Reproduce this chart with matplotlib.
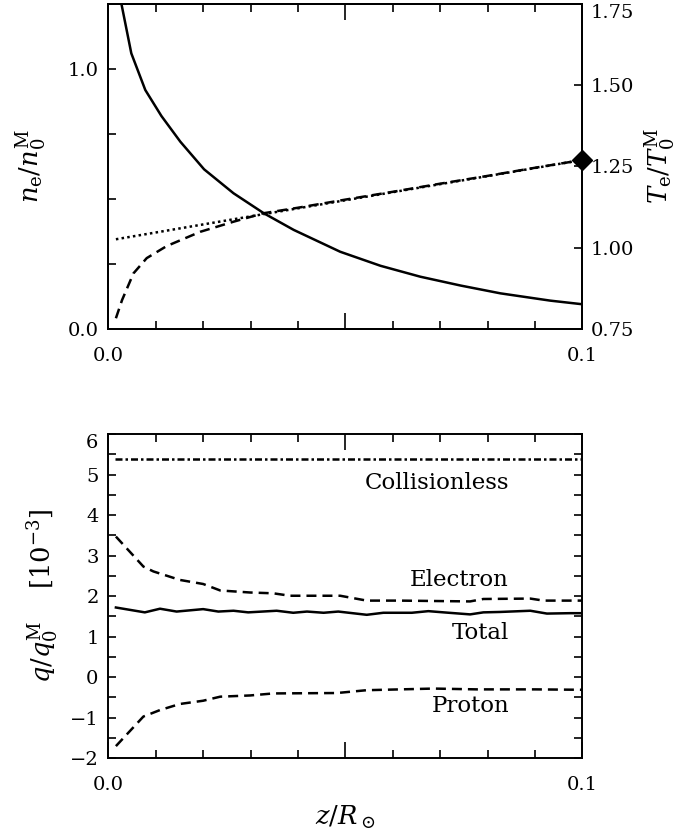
import numpy as np
import matplotlib
matplotlib.use('Agg')
import matplotlib.pyplot as plt
from matplotlib.ticker import FixedLocator, FixedFormatter, MultipleLocator

# ---- top panel: density and temperature ----
z_ne = [0.002, 0.00485, 0.0078, 0.0112, 0.0152, 0.0202, 0.0264, 0.0328,
        0.0391, 0.0489, 0.0574, 0.0658, 0.0743, 0.0827, 0.0932, 0.1]
ne = [1.32, 1.06, 0.919, 0.819, 0.720, 0.614, 0.522, 0.445,
      0.381, 0.297, 0.243, 0.201, 0.167, 0.137, 0.109, 0.095]

z_te = [0.0016, 0.0029, 0.0053, 0.0081, 0.0123, 0.0194, 0.0264, 0.0327,
        0.04, 0.05, 0.06, 0.07, 0.08, 0.09, 0.1]
te = [0.783, 0.839, 0.921, 0.968, 1.005, 1.049, 1.080, 1.106,
      1.123, 1.148, 1.172, 1.197, 1.221, 1.246, 1.27]

z_tdot = [0.0016, 0.1]
tdot = [1.026, 1.27]

z_diamond = [0.1]
t_diamond = [1.27]

# ---- bottom panel: heat fluxes [1e-3] ----
z_coll = [0.0015, 0.1]
q_coll = [5.38, 5.38]

z_el = [0.0016, 0.0074, 0.0095, 0.0151, 0.0200, 0.0236, 0.0299, 0.0348, 0.0383,
        0.0489, 0.0545, 0.0615, 0.0763, 0.0791, 0.0890, 0.0918, 0.1]
q_el = [3.47, 2.73, 2.61, 2.40, 2.30, 2.14, 2.09, 2.07, 2.01,
        2.01, 1.89, 1.89, 1.87, 1.93, 1.94, 1.89, 1.89]

z_tot = [0.0016, 0.0077, 0.0109, 0.0144, 0.0200, 0.0232, 0.0264, 0.0295, 0.0355,
         0.0390, 0.0419, 0.0454, 0.0485, 0.0545, 0.0580, 0.0640, 0.0675, 0.0707,
         0.0763, 0.0791, 0.0826, 0.0890, 0.0925, 0.0974, 0.1]
q_tot = [1.72, 1.60, 1.69, 1.62, 1.68, 1.62, 1.64, 1.60, 1.64,
         1.59, 1.62, 1.59, 1.62, 1.54, 1.59, 1.59, 1.63, 1.60,
         1.55, 1.60, 1.61, 1.64, 1.57, 1.58, 1.58]

z_pr = [0.0016, 0.0074, 0.0109, 0.0151, 0.0200, 0.0236, 0.0299, 0.0348,
        0.0482, 0.0545, 0.0686, 0.0778, 0.0900, 0.1]
q_pr = [-1.70, -0.97, -0.81, -0.66, -0.58, -0.48, -0.45, -0.40,
        -0.39, -0.32, -0.28, -0.30, -0.30, -0.31]

labels = ['Collisionless', 'Electron', 'Total', 'Proton']
label_y = [4.79, 2.40, 1.09, -0.71]

q_ticks = [-2, -1, 0, 1, 2, 3, 4, 5, 6]
q_ticklabels = ['\u22122', '\u22121', '0', '1', '2', '3', '4', '5', '6']

plt.rcParams['font.family'] = 'DejaVu Serif'
plt.rcParams['mathtext.fontset'] = 'dejavuserif'
plt.rcParams['axes.linewidth'] = 1.4

lw = 1.8
fs_tick = 14
fs_lab = 18.5
dashed = (0, (4, 2.4))

fig = plt.figure(figsize=(6.97, 8.39), dpi=100)
ax1 = fig.add_axes([0.1554, 0.6079, 0.6803, 0.3874])
ax2 = ax1.twinx()
ax3 = fig.add_axes([0.1554, 0.0962, 0.6803, 0.3865])

# top panel
ax1.plot(z_ne, ne, color='black', lw=lw)
ax2.plot(z_tdot, tdot, color='black', lw=lw, linestyle=(0, (1, 1.3)))
ax2.plot(z_te, te, color='black', lw=lw, linestyle=dashed)
ax2.plot(z_diamond, t_diamond, marker='D', color='black', markersize=10.5,
         linestyle='none', clip_on=False, zorder=10)

ax1.set_xlim(0, 0.1)
ax1.set_ylim(0, 1.25)
ax2.set_ylim(0.75, 1.75)

ax1.yaxis.set_major_locator(FixedLocator([0, 0.25, 0.5, 0.75, 1.0]))
ax1.yaxis.set_major_formatter(FixedFormatter(['0.0', '', '', '', '1.0']))
ax2.yaxis.set_major_locator(FixedLocator([0.75, 1.0, 1.25, 1.5, 1.75]))
ax2.yaxis.set_major_formatter(FixedFormatter(['0.75', '1.00', '1.25', '1.50', '1.75']))

for ax in (ax1, ax3):
    ax.xaxis.set_major_locator(FixedLocator([0, 0.05, 0.1]))
    ax.xaxis.set_major_formatter(FixedFormatter(['0.0', '', '0.1']))
    ax.xaxis.set_minor_locator(MultipleLocator(0.01))
    ax.tick_params(axis='x', which='major', direction='in', length=11.5, width=1.2,
                   top=True, bottom=True, labelsize=fs_tick, pad=13)
    ax.tick_params(axis='x', which='minor', direction='in', length=5.8, width=1.2,
                   top=True, bottom=True)

ax1.tick_params(axis='y', which='major', direction='in', length=5.8, width=1.2,
                labelsize=fs_tick, pad=7, left=True, right=False)
ax2.tick_params(axis='y', which='major', direction='in', length=5.8, width=1.2,
                labelsize=fs_tick, pad=6)
ax2.yaxis.get_major_ticks()[-1].label2.set_verticalalignment('top')

ax1.set_ylabel(r'$n_{\rm e}/n_0^{\rm M}$', fontsize=fs_lab)
ax1.yaxis.set_label_coords(-0.163, 0.5)
ax1.yaxis.label.set_va('center')
ax2.set_ylabel(r'$T_{\rm e}/T_0^{\rm M}$', fontsize=fs_lab, rotation=90)
ax2.yaxis.set_label_coords(1.165, 0.5)
ax2.yaxis.label.set_va('center')

# bottom panel
ax3.plot(z_coll, q_coll, color='black', lw=lw, linestyle=(0, (2.8, 1.2, 1, 1.2)))
ax3.plot(z_el, q_el, color='black', lw=lw, linestyle=dashed)
ax3.plot(z_tot, q_tot, color='black', lw=lw)
ax3.plot(z_pr, q_pr, color='black', lw=lw, linestyle=dashed)

for txt, yv in zip(labels, label_y):
    ax3.text(0.0845, yv, txt, ha='right', va='center', fontsize=16.5)

ax3.set_xlim(0, 0.1)
ax3.set_ylim(-2, 6)
ax3.yaxis.set_major_locator(FixedLocator(q_ticks))
ax3.yaxis.set_major_formatter(FixedFormatter(q_ticklabels))
ax3.yaxis.set_minor_locator(MultipleLocator(0.5))
ax3.tick_params(axis='y', which='both', direction='in', length=5.8, width=1.2,
                left=True, right=True, labelsize=fs_tick, pad=7)
ax3.yaxis.get_major_ticks()[-1].label1.set_verticalalignment('top')

ax3.set_ylabel(r'$q/q_0^{\rm M}\quad\ [10^{-3}]$', fontsize=fs_lab)
ax3.yaxis.set_label_coords(-0.138, 0.5)
ax3.yaxis.label.set_va('center')
ax3.set_xlabel(r'$z/R_\odot$', fontsize=fs_lab)
ax3.xaxis.set_label_coords(0.5, -0.181)
ax3.xaxis.label.set_va('center')

fig.savefig('out.png', dpi=100)
